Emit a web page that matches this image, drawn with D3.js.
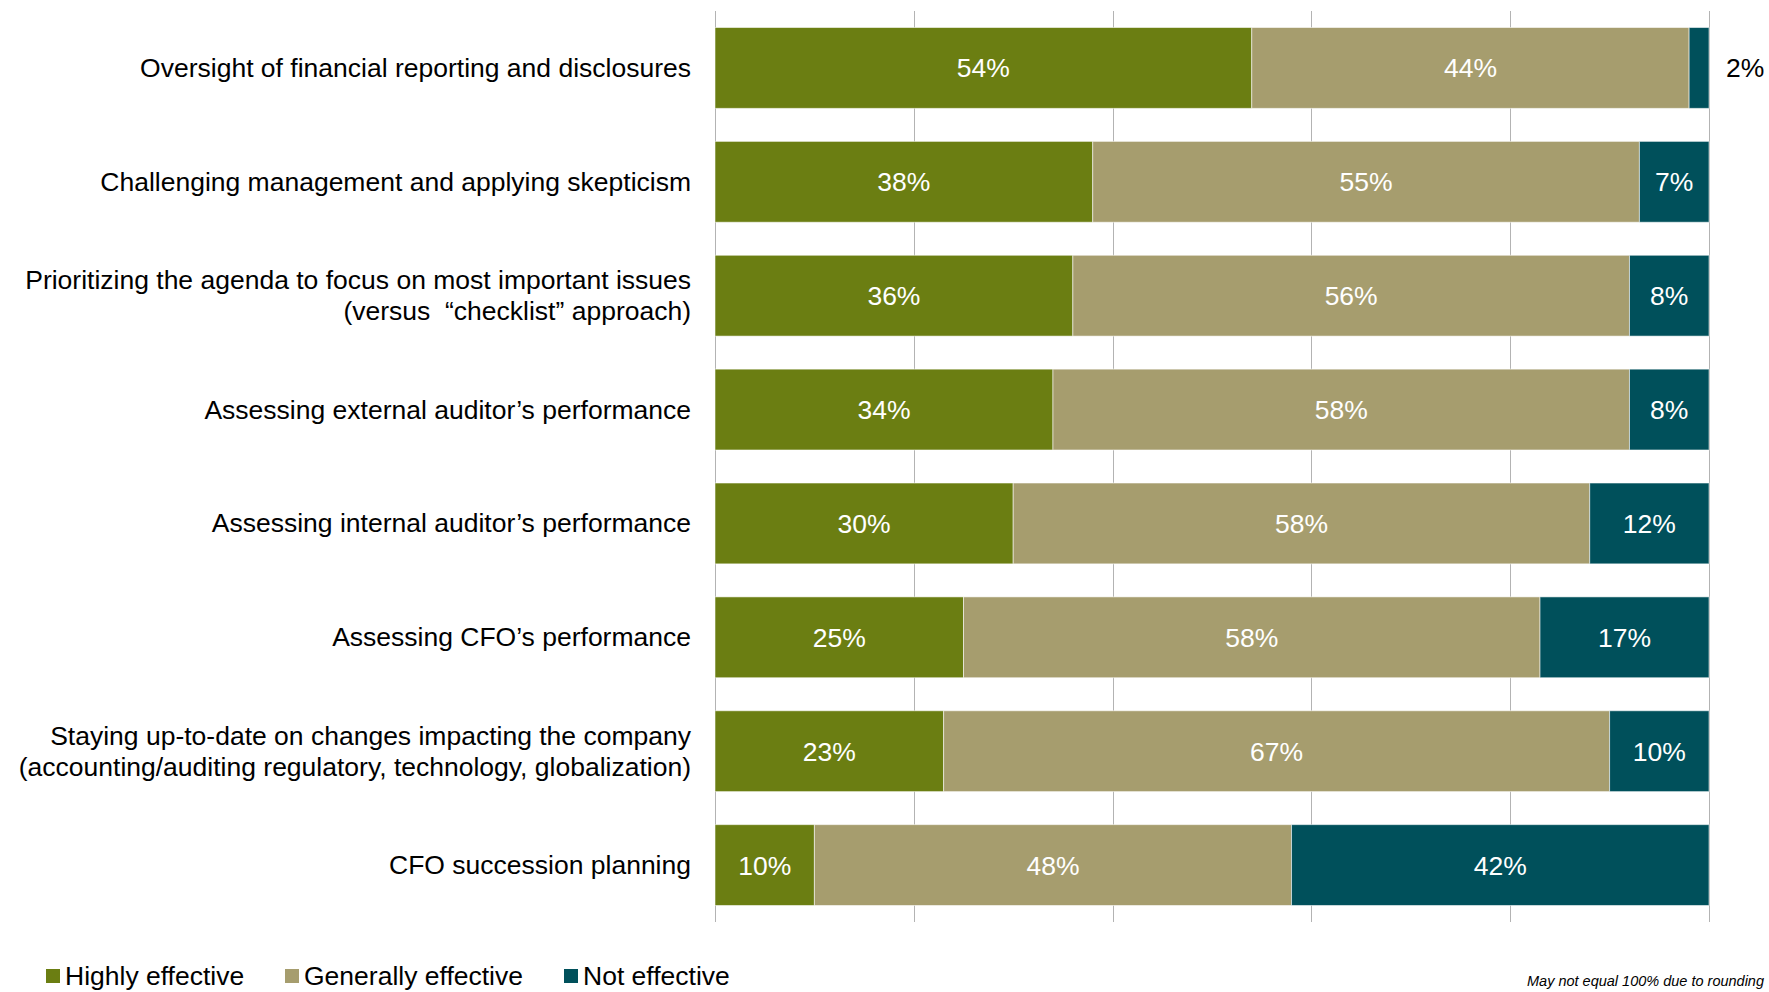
<!DOCTYPE html>
<html>
<head>
<meta charset="utf-8">
<script src="https://cdn.jsdelivr.net/npm/d3@7"></script>
<style>
  html, body { margin: 0; padding: 0; background: #fff; overflow: hidden; }
  svg { display: block; font-family: "Liberation Sans", Arial, sans-serif; }
  .cat-label { white-space: pre; }
</style>
</head>
<body>
<svg id="chart" width="1769" height="992"></svg>
<script>
// Audit committee effectiveness ratings, one row per area
const categories = [
  ["Oversight of financial reporting and disclosures"],
  ["Challenging management and applying skepticism"],
  ["Prioritizing the agenda to focus on most important issues", "(versus  \u201cchecklist\u201d approach)"],
  ["Assessing external auditor\u2019s performance"],
  ["Assessing internal auditor\u2019s performance"],
  ["Assessing CFO\u2019s performance"],
  ["Staying up-to-date on changes impacting the company", "(accounting/auditing regulatory, technology, globalization)"],
  ["CFO succession planning"]
];
const seriesNames = ["Highly effective", "Generally effective", "Not effective"];
const highlyEffective    = [54, 38, 36, 34, 30, 25, 23, 10];
const generallyEffective = [44, 55, 56, 58, 58, 58, 67, 48];
const notEffective       = [2, 7, 8, 8, 12, 17, 10, 42];
const xTicks = [0, 20, 40, 60, 80, 100];
const footnote = "May not equal 100% due to rounding";

const colors = ["#6b7e12", "#a69d6e", "#00505b"];

const svg = d3.select("#chart");
const plotLeft = 715, plotRight = 1709, plotTop = 11, plotBottom = 922;

const rows = categories.map((c, i) => ({
  key: i,
  lines: c,
  vals: [highlyEffective[i], generallyEffective[i], notEffective[i]]
}));

const x = d3.scaleLinear().domain([0, 100]).range([plotLeft, plotRight]);
const y = d3.scaleBand().domain(rows.map(r => r.key)).range([plotTop, plotBottom])
  .paddingInner(0.29).paddingOuter(0.145);

// vertical gridlines
svg.append("g").selectAll("line").data(xTicks).join("line")
  .attr("x1", d => Math.round(x(d)) + 0.5).attr("x2", d => Math.round(x(d)) + 0.5)
  .attr("y1", plotTop).attr("y2", plotBottom)
  .attr("stroke", "#b3b3b3").attr("stroke-width", 1);

// stacked segments
const stack = d3.stack().keys([0, 1, 2]).value((r, k) => r.vals[k]);
const layers = stack(rows);

const segs = svg.append("g").selectAll("g").data(layers).join("g")
  .attr("fill", (d, i) => colors[i]);

segs.selectAll("rect").data(d => d.map(s => ({ s, row: s.data }))).join("rect")
  .attr("x", d => x(d.s[0]))
  .attr("width", d => x(d.s[1]) - x(d.s[0]))
  .attr("y", d => y(d.row.key))
  .attr("height", y.bandwidth())
  .attr("stroke", "rgba(255,255,255,0.55)")
  .attr("stroke-width", 1);

// value labels: inside the segment when it is wide enough, otherwise just past its end
const labels = [];
layers.forEach((layer, li) => {
  layer.forEach(s => {
    const v = s[1] - s[0];
    const w = x(s[1]) - x(s[0]);
    const inside = w > 40;
    labels.push({
      text: v + "%",
      x: inside ? (x(s[0]) + x(s[1])) / 2 : x(s[1]) + 17,
      anchor: inside ? "middle" : "start",
      y: y(s.data.key) + y.bandwidth() / 2,
      fill: inside ? "#ffffff" : "#000000"
    });
  });
});

svg.append("g").selectAll("text").data(labels).join("text")
  .attr("x", d => d.x).attr("y", d => d.y)
  .attr("dy", "0.36em")
  .attr("text-anchor", d => d.anchor)
  .attr("fill", d => d.fill)
  .attr("font-size", 26.5)
  .text(d => d.text);

// category labels
const lineH = 31;
const cat = svg.append("g").selectAll("text").data(rows).join("text")
  .attr("class", "cat-label")
  .attr("text-anchor", "end")
  .attr("font-size", 26.5)
  .attr("fill", "#000");
cat.each(function (r) {
  const cy = y(r.key) + y.bandwidth() / 2;
  const n = r.lines.length;
  d3.select(this).selectAll("tspan").data(r.lines).join("tspan")
    .attr("x", 691)
    .attr("y", (d, i) => cy + (i - (n - 1) / 2) * lineH)
    .attr("dy", "0.34em")
    .text(d => d);
});

// legend
const legendX = [46, 285, 564];
const lg = svg.append("g").selectAll("g").data(seriesNames).join("g")
  .attr("transform", (d, i) => `translate(${legendX[i]},969)`);
lg.append("rect").attr("width", 14).attr("height", 14).attr("fill", (d, i) => colors[i]);
lg.append("text").attr("x", 19).attr("y", 16).attr("font-size", 26.5).attr("fill", "#000").text(d => d);

// footnote
svg.append("text").attr("x", 1764).attr("y", 986)
  .attr("text-anchor", "end")
  .attr("font-size", 14.5).attr("font-style", "italic").attr("fill", "#000")
  .text(footnote);
</script>
</body>
</html>
